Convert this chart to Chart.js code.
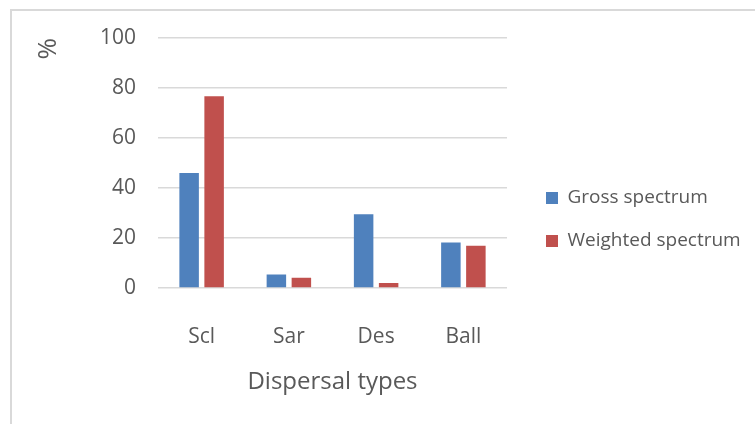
<!DOCTYPE html>
<html>
<head>
<meta charset="utf-8">
<script src="https://cdn.jsdelivr.net/npm/chart.js@4/dist/chart.umd.min.js"></script>
<style>
  html, body { margin: 0; padding: 0; background: #fff; }
  #wrap { position: relative; width: 755px; height: 424px; overflow: hidden; }
  #frame { position: absolute; left: 10px; top: 9px; width: 800px; height: 500px;
           border: 2px solid #d9d9d9; box-sizing: border-box; }
  canvas { position: absolute; left: 0; top: 0; }
</style>
</head>
<body>
<div id="wrap">
  <div id="frame"></div>
  <canvas id="myChart" width="755" height="424"></canvas>
</div>
<script>
// Datos
var categories = ["Scl", "Sar", "Des", "Ball"];
var grossSpectrum = [46, 5.4, 29.5, 18.2];
var weightedSpectrum = [76.7, 4.1, 2.0, 16.9];
var yTicks = [0, 20, 40, 60, 80, 100];

var textColor = "#595959";
var font = "'Open Sans', sans-serif";

// ancho fijo de la leyenda y desplazamiento de sus items
var legendWidth = 240;
var legendShift = 15;

var legendFix = {
    id: 'legendFix',
    beforeInit: function(chart) {
        var lg = chart.legend;
        var fit = lg.fit;
        lg.fit = function() {
            fit.call(this);
            this.width = legendWidth;
        };
    },
    afterLayout: function(chart) {
        chart.legend.left += legendShift;
        chart.legend.right += legendShift;
    }
};

var ctx = document.getElementById('myChart').getContext('2d');
var myChart = new Chart(ctx, {
    type: 'bar',
    data: {
        labels: categories,
        datasets: [{
            label: "Gross spectrum",
            data: grossSpectrum,
            backgroundColor: "#4f81bd",
            categoryPercentage: 0.573,
            barPercentage: 0.78
        }, {
            label: "Weighted spectrum",
            data: weightedSpectrum,
            backgroundColor: "#c0504d",
            categoryPercentage: 0.573,
            barPercentage: 0.78
        }]
    },
    options: {
        responsive: false,
        animation: false,
        layout: {
            padding: { left: 20, top: 38, right: 8, bottom: 23 }
        },
        scales: {
            x: {
                grid: { display: false },
                border: { display: false },
                ticks: {
                    color: textColor,
                    font: { family: font, size: 21 },
                    padding: 28
                },
                title: {
                    display: true,
                    text: "Dispersal types",
                    color: textColor,
                    font: { family: font, size: 24 },
                    padding: { top: 0, bottom: 4.6 }
                },
                afterFit: function(scale) { scale.height = 113; }
            },
            y: {
                min: 0,
                max: 100,
                afterBuildTicks: function(scale) {
                    scale.ticks = yTicks.map(function(v) { return { value: v }; });
                },
                grid: { color: "#d9d9d9", lineWidth: 1.5, drawTicks: false },
                border: { display: false },
                ticks: {
                    color: textColor,
                    font: { family: font, size: 21 },
                    padding: 22
                },
                title: {
                    display: true,
                    text: "%",
                    align: 'end',
                    color: textColor,
                    font: { family: font, size: 26 },
                    padding: { top: 13, bottom: 0 }
                },
                afterFit: function(scale) { scale.width = 138; }
            }
        },
        plugins: {
            legend: {
                position: 'right',
                labels: {
                    color: textColor,
                    font: { family: font, size: 19 },
                    boxWidth: 12,
                    boxHeight: 12,
                    padding: 24
                }
            },
            tooltip: { enabled: false }
        }
    },
    plugins: [legendFix]
});
</script>
</body>
</html>
